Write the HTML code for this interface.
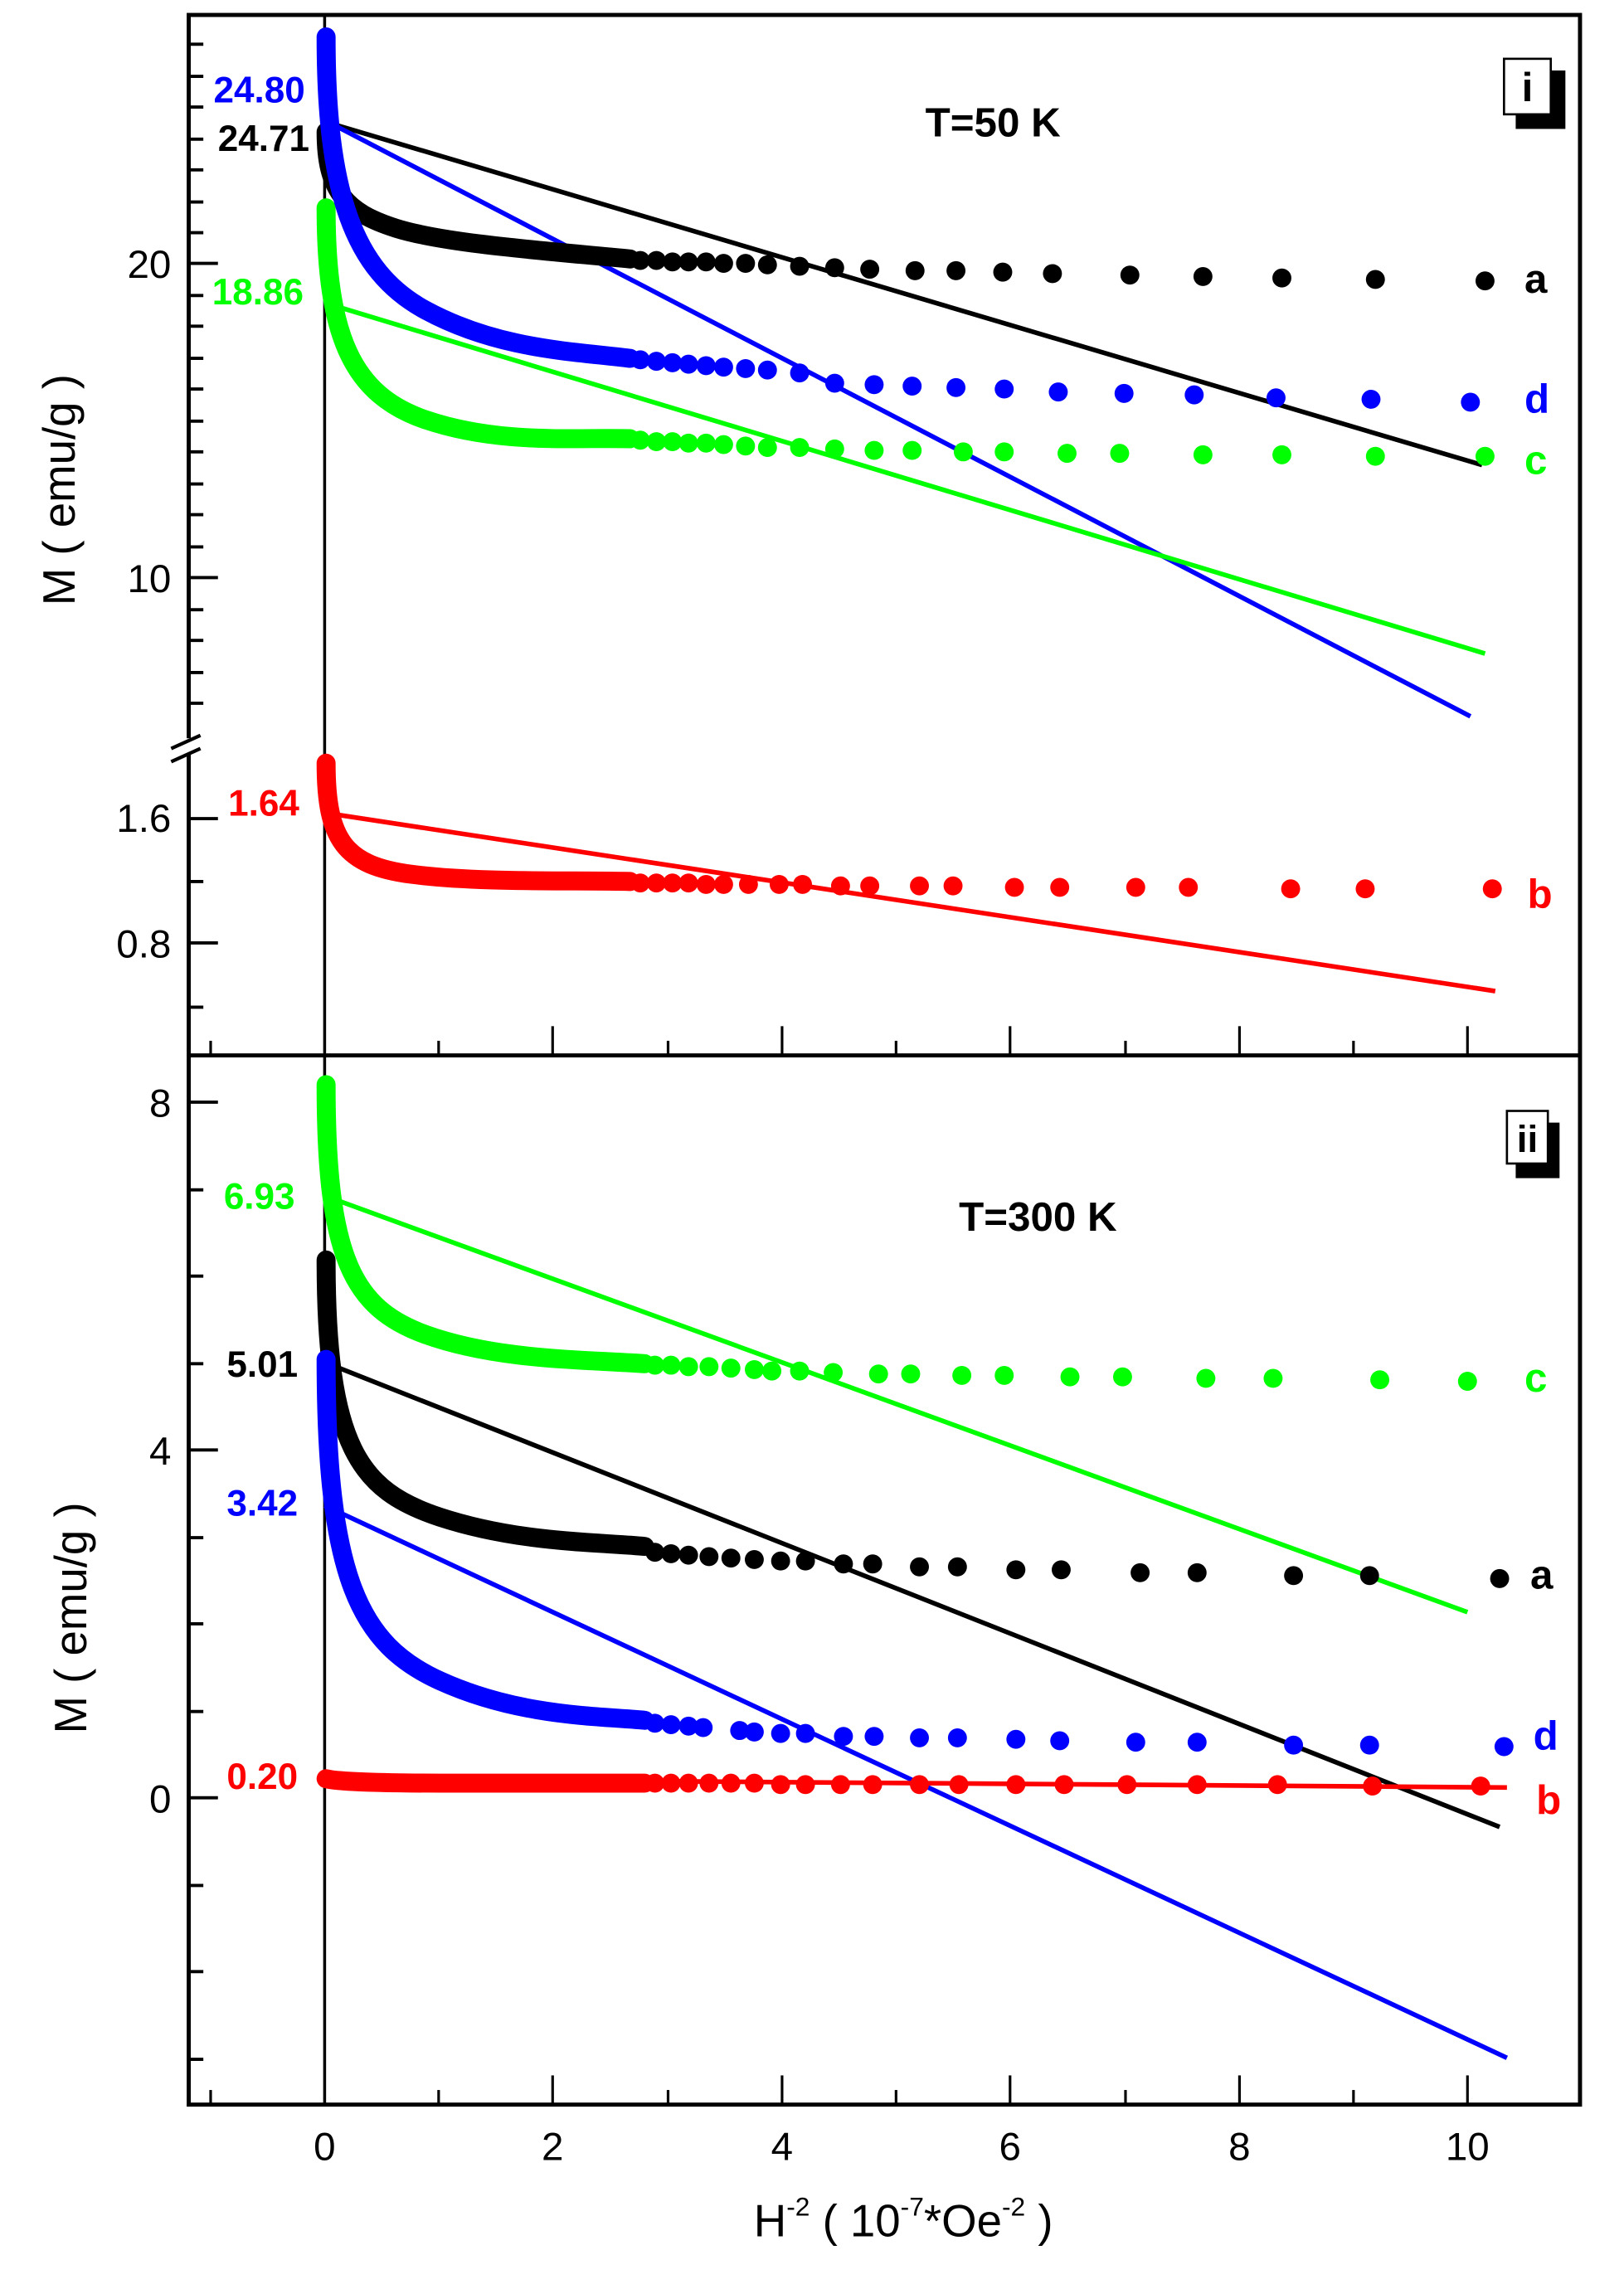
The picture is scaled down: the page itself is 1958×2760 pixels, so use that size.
<!DOCTYPE html>
<html><head><meta charset="utf-8"><style>html,body{margin:0;padding:0;background:#fff}svg{display:block}</style></head>
<body>
<svg width="1958" height="2760" viewBox="0 0 1958 2760" xmlns="http://www.w3.org/2000/svg">
<rect width="1958" height="2760" fill="#fff"/>
<g transform="matrix(1.762,0,0,1.762,2,0.4)" font-family="Liberation Sans, Arial, sans-serif">
<!-- frame -->
<rect x="128" y="10" width="952" height="1430" fill="none" stroke="#000" stroke-width="2.8"/>
<line x1="128" y1="722" x2="1080" y2="722" stroke="#000" stroke-width="2.8"/>
<line x1="221" y1="10" x2="221" y2="1440" stroke="#000" stroke-width="2"/>
<!-- x ticks (bottom and divider) -->
<g stroke="#000" stroke-width="1.8">
<line x1="143" y1="1440" x2="143" y2="1430"/><line x1="299" y1="1440" x2="299" y2="1430"/><line x1="456" y1="1440" x2="456" y2="1430"/><line x1="612" y1="1440" x2="612" y2="1430"/><line x1="769" y1="1440" x2="769" y2="1430"/><line x1="925" y1="1440" x2="925" y2="1430"/>
<line x1="377" y1="1440" x2="377" y2="1420"/><line x1="534" y1="1440" x2="534" y2="1420"/><line x1="690" y1="1440" x2="690" y2="1420"/><line x1="847" y1="1440" x2="847" y2="1420"/><line x1="1003" y1="1440" x2="1003" y2="1420"/>
<line x1="143" y1="722" x2="143" y2="712"/><line x1="299" y1="722" x2="299" y2="712"/><line x1="456" y1="722" x2="456" y2="712"/><line x1="612" y1="722" x2="612" y2="712"/><line x1="769" y1="722" x2="769" y2="712"/><line x1="925" y1="722" x2="925" y2="712"/>
<line x1="377" y1="722" x2="377" y2="702"/><line x1="534" y1="722" x2="534" y2="702"/><line x1="690" y1="722" x2="690" y2="702"/><line x1="847" y1="722" x2="847" y2="702"/><line x1="1003" y1="722" x2="1003" y2="702"/>
</g>
<!-- y ticks -->
<g stroke="#000" stroke-width="2.2">
<line x1="128" y1="30" x2="138" y2="30"/><line x1="128" y1="52" x2="138" y2="52"/><line x1="128" y1="73" x2="138" y2="73"/><line x1="128" y1="95" x2="138" y2="95"/><line x1="128" y1="116" x2="138" y2="116"/><line x1="128" y1="138" x2="138" y2="138"/><line x1="128" y1="159" x2="138" y2="159"/>
<line x1="128" y1="180" x2="148" y2="180"/>
<line x1="128" y1="202" x2="138" y2="202"/><line x1="128" y1="223" x2="138" y2="223"/><line x1="128" y1="245" x2="138" y2="245"/><line x1="128" y1="266" x2="138" y2="266"/><line x1="128" y1="288" x2="138" y2="288"/><line x1="128" y1="309" x2="138" y2="309"/><line x1="128" y1="331" x2="138" y2="331"/><line x1="128" y1="352" x2="138" y2="352"/><line x1="128" y1="374" x2="138" y2="374"/>
<line x1="128" y1="395" x2="148" y2="395"/>
<line x1="128" y1="417" x2="138" y2="417"/><line x1="128" y1="438" x2="138" y2="438"/><line x1="128" y1="460" x2="138" y2="460"/><line x1="128" y1="481" x2="138" y2="481"/>
<line x1="128" y1="560" x2="148" y2="560"/><line x1="128" y1="603" x2="138" y2="603"/><line x1="128" y1="645" x2="148" y2="645"/><line x1="128" y1="689" x2="138" y2="689"/>
<line x1="128" y1="754" x2="148" y2="754"/><line x1="128" y1="814" x2="138" y2="814"/><line x1="128" y1="873" x2="138" y2="873"/><line x1="128" y1="933" x2="138" y2="933"/>
<line x1="128" y1="992" x2="148" y2="992"/><line x1="128" y1="1052" x2="138" y2="1052"/><line x1="128" y1="1111" x2="138" y2="1111"/><line x1="128" y1="1171" x2="138" y2="1171"/>
<line x1="128" y1="1230" x2="148" y2="1230"/><line x1="128" y1="1290" x2="138" y2="1290"/><line x1="128" y1="1349" x2="138" y2="1349"/><line x1="128" y1="1409" x2="138" y2="1409"/>
</g>
<!-- axis break -->
<rect x="122" y="505" width="14" height="10" fill="#fff"/>
<g stroke="#000" stroke-width="2.4"><line x1="116" y1="512" x2="136" y2="503"/><line x1="116" y1="521" x2="136" y2="512"/></g>
<!-- tick labels -->
<g font-size="27" fill="#000" text-anchor="end">
<text x="116" y="190">20</text><text x="116" y="405">10</text>
<text x="116" y="569">1.6</text><text x="116" y="655">0.8</text>
<text x="116" y="764">8</text><text x="116" y="1002">4</text><text x="116" y="1240">0</text>
</g>
<g font-size="27" fill="#000" text-anchor="middle">
<text x="221" y="1478">0</text><text x="377" y="1478">2</text><text x="534" y="1478">4</text><text x="690" y="1478">6</text><text x="847" y="1478">8</text><text x="1003" y="1478">10</text>
</g>
<text x="617" y="1530" font-size="31" text-anchor="middle">H<tspan font-size="18" dy="-14">-2</tspan><tspan dy="14"> ( 10</tspan><tspan font-size="18" dy="-14">-7</tspan><tspan dy="14">*Oe</tspan><tspan font-size="18" dy="-14">-2</tspan><tspan dy="14"> )</tspan></text>
<text transform="translate(50,335) rotate(-90)" font-size="31" text-anchor="middle">M ( emu/g )</text>
<text transform="translate(58,1107) rotate(-90)" font-size="31" text-anchor="middle">M ( emu/g )</text>

<!-- TOP PANEL fits -->
<g stroke-width="3.2" fill="none">
<line x1="221" y1="83" x2="1013" y2="318" stroke="#000"/>
<line x1="221" y1="82" x2="1005" y2="490" stroke="#0000ff"/>
<line x1="221" y1="207" x2="1015" y2="447" stroke="#00ff00"/>
<line x1="221" y1="556" x2="1022" y2="678" stroke="#ff0000"/>
</g>
<!-- top curves -->
<g fill="none" stroke-width="13" stroke-linecap="round" stroke-linejoin="round">
<path stroke="#000" d="M222,90 C222,130 235,145 270,156 S380,172 430,177"/>
<path stroke="#00ff00" d="M222,142 C222,230 240,270 290,287 S390,299 430,300"/>
<path stroke="#0000ff" d="M222,25 C222,130 240,185 290,212 S390,240 430,245"/>
<path stroke="#ff0000" d="M222,522 C222,575 235,592 280,598 S390,602 430,603"/>
</g>
<g fill="#000">
<circle cx="437" cy="178" r="6.5"/><circle cx="448" cy="178" r="6.5"/><circle cx="459" cy="179" r="6.5"/><circle cx="470" cy="179" r="6.5"/><circle cx="482" cy="179" r="6.5"/><circle cx="494" cy="180" r="6.5"/><circle cx="509" cy="180" r="6.5"/><circle cx="524" cy="181" r="6.5"/><circle cx="546" cy="182" r="6.5"/><circle cx="570" cy="183" r="6.5"/><circle cx="594" cy="184" r="6.5"/><circle cx="625" cy="185" r="6.5"/><circle cx="653" cy="185" r="6.5"/><circle cx="685" cy="186" r="6.5"/><circle cx="719" cy="187" r="6.5"/><circle cx="772" cy="188" r="6.5"/><circle cx="822" cy="189" r="6.5"/><circle cx="876" cy="190" r="6.5"/><circle cx="940" cy="191" r="6.5"/><circle cx="1015" cy="192" r="6.5"/>
</g>
<g fill="#0000ff">
<circle cx="437" cy="246" r="6.5"/><circle cx="448" cy="247" r="6.5"/><circle cx="459" cy="248" r="6.5"/><circle cx="470" cy="249" r="6.5"/><circle cx="482" cy="250" r="6.5"/><circle cx="494" cy="251" r="6.5"/><circle cx="509" cy="252" r="6.5"/><circle cx="524" cy="253" r="6.5"/><circle cx="546" cy="255" r="6.5"/><circle cx="570" cy="262" r="6.5"/><circle cx="597" cy="263" r="6.5"/><circle cx="623" cy="264" r="6.5"/><circle cx="653" cy="265" r="6.5"/><circle cx="686" cy="266" r="6.5"/><circle cx="723" cy="268" r="6.5"/><circle cx="768" cy="269" r="6.5"/><circle cx="816" cy="270" r="6.5"/><circle cx="872" cy="272" r="6.5"/><circle cx="937" cy="273" r="6.5"/><circle cx="1005" cy="275" r="6.5"/>
</g>
<g fill="#00ff00">
<circle cx="437" cy="301" r="6.5"/><circle cx="448" cy="302" r="6.5"/><circle cx="459" cy="302" r="6.5"/><circle cx="470" cy="303" r="6.5"/><circle cx="482" cy="303" r="6.5"/><circle cx="494" cy="304" r="6.5"/><circle cx="509" cy="305" r="6.5"/><circle cx="524" cy="306" r="6.5"/><circle cx="546" cy="306" r="6.5"/><circle cx="570" cy="307" r="6.5"/><circle cx="597" cy="308" r="6.5"/><circle cx="623" cy="308" r="6.5"/><circle cx="658" cy="309" r="6.5"/><circle cx="686" cy="309" r="6.5"/><circle cx="729" cy="310" r="6.5"/><circle cx="765" cy="310" r="6.5"/><circle cx="822" cy="311" r="6.5"/><circle cx="876" cy="311" r="6.5"/><circle cx="940" cy="312" r="6.5"/><circle cx="1015" cy="312" r="6.5"/>
</g>
<g fill="#ff0000">
<circle cx="437" cy="604" r="6.5"/><circle cx="448" cy="604" r="6.5"/><circle cx="459" cy="604" r="6.5"/><circle cx="470" cy="604" r="6.5"/><circle cx="482" cy="605" r="6.5"/><circle cx="494" cy="605" r="6.5"/><circle cx="511" cy="605" r="6.5"/><circle cx="532" cy="605" r="6.5"/><circle cx="548" cy="605" r="6.5"/><circle cx="574" cy="606" r="6.5"/><circle cx="594" cy="606" r="6.5"/><circle cx="628" cy="606" r="6.5"/><circle cx="651" cy="606" r="6.5"/><circle cx="693" cy="607" r="6.5"/><circle cx="724" cy="607" r="6.5"/><circle cx="776" cy="607" r="6.5"/><circle cx="812" cy="607" r="6.5"/><circle cx="882" cy="608" r="6.5"/><circle cx="933" cy="608" r="6.5"/><circle cx="1020" cy="608" r="6.5"/>
</g>
<!-- top labels -->
<g font-size="25" font-weight="bold">
<text x="145" y="70" fill="#0000ff">24.80</text>
<text x="148" y="103" fill="#000">24.71</text>
<text x="144" y="208" fill="#00ff00">18.86</text>
<text x="155" y="558" fill="#ff0000">1.64</text>
<text x="632" y="93" fill="#000" font-size="28">T=50 K</text>
<text x="1042" y="200" fill="#000" font-size="28">a</text>
<text x="1042" y="282" fill="#0000ff" font-size="28">d</text>
<text x="1042" y="324" fill="#00ff00" font-size="28">c</text>
<text x="1044" y="621" fill="#ff0000" font-size="28">b</text>
</g>
<rect x="1036" y="48" width="34" height="40" fill="#000"/>
<rect x="1028" y="40" width="32" height="38" fill="#fff" stroke="#000" stroke-width="1.5"/>
<text x="1044" y="69" font-size="28" font-weight="bold" text-anchor="middle">i</text>

<!-- BOTTOM PANEL fits -->
<g stroke-width="3.2" fill="none">
<line x1="221" y1="818" x2="1003" y2="1103" stroke="#00ff00"/>
<line x1="221" y1="932" x2="1025" y2="1250" stroke="#000"/>
<line x1="221" y1="1030" x2="1030" y2="1408" stroke="#0000ff"/>
<line x1="221" y1="1217" x2="1030" y2="1223" stroke="#ff0000"/>
</g>
<g fill="none" stroke-width="13" stroke-linecap="round" stroke-linejoin="round">
<path stroke="#00ff00" d="M222,742 C222,860 240,895 290,913 S400,930 440,933"/>
<path stroke="#000" d="M222,862 C222,990 245,1020 300,1038 S410,1055 440,1058"/>
<path stroke="#0000ff" d="M222,930 C222,1080 245,1125 300,1150 S410,1174 440,1177"/>
<path stroke="#ff0000" d="M222,1217 C230,1219 260,1220 300,1220 L440,1220"/>
</g>
<g fill="#00ff00">
<circle cx="447" cy="934" r="6.5"/><circle cx="458" cy="934" r="6.5"/><circle cx="470" cy="935" r="6.5"/><circle cx="484" cy="935" r="6.5"/><circle cx="499" cy="936" r="6.5"/><circle cx="515" cy="937" r="6.5"/><circle cx="527" cy="938" r="6.5"/><circle cx="546" cy="938" r="6.5"/><circle cx="569" cy="939" r="6.5"/><circle cx="600" cy="940" r="6.5"/><circle cx="622" cy="940" r="6.5"/><circle cx="657" cy="941" r="6.5"/><circle cx="686" cy="941" r="6.5"/><circle cx="731" cy="942" r="6.5"/><circle cx="767" cy="942" r="6.5"/><circle cx="824" cy="943" r="6.5"/><circle cx="870" cy="943" r="6.5"/><circle cx="943" cy="944" r="6.5"/><circle cx="1003" cy="945" r="6.5"/>
</g>
<g fill="#000">
<circle cx="447" cy="1062" r="6.5"/><circle cx="458" cy="1063" r="6.5"/><circle cx="470" cy="1064" r="6.5"/><circle cx="484" cy="1065" r="6.5"/><circle cx="499" cy="1066" r="6.5"/><circle cx="515" cy="1067" r="6.5"/><circle cx="533" cy="1068" r="6.5"/><circle cx="550" cy="1068" r="6.5"/><circle cx="576" cy="1070" r="6.5"/><circle cx="596" cy="1070" r="6.5"/><circle cx="628" cy="1072" r="6.5"/><circle cx="654" cy="1072" r="6.5"/><circle cx="694" cy="1074" r="6.5"/><circle cx="725" cy="1074" r="6.5"/><circle cx="779" cy="1076" r="6.5"/><circle cx="818" cy="1076" r="6.5"/><circle cx="884" cy="1078" r="6.5"/><circle cx="936" cy="1078" r="6.5"/><circle cx="1025" cy="1080" r="6.5"/>
</g>
<g fill="#0000ff">
<circle cx="447" cy="1179" r="6.5"/><circle cx="458" cy="1180" r="6.5"/><circle cx="470" cy="1181" r="6.5"/><circle cx="480" cy="1182" r="6.5"/><circle cx="505" cy="1184" r="6.5"/><circle cx="515" cy="1185" r="6.5"/><circle cx="533" cy="1186" r="6.5"/><circle cx="550" cy="1186" r="6.5"/><circle cx="576" cy="1188" r="6.5"/><circle cx="597" cy="1188" r="6.5"/><circle cx="628" cy="1189" r="6.5"/><circle cx="654" cy="1189" r="6.5"/><circle cx="694" cy="1190" r="6.5"/><circle cx="724" cy="1191" r="6.5"/><circle cx="776" cy="1192" r="6.5"/><circle cx="818" cy="1192" r="6.5"/><circle cx="884" cy="1194" r="6.5"/><circle cx="936" cy="1194" r="6.5"/><circle cx="1028" cy="1195" r="6.5"/>
</g>
<g fill="#ff0000">
<circle cx="447" cy="1220" r="6.5"/><circle cx="458" cy="1220" r="6.5"/><circle cx="470" cy="1220" r="6.5"/><circle cx="484" cy="1220" r="6.5"/><circle cx="499" cy="1220" r="6.5"/><circle cx="515" cy="1220" r="6.5"/><circle cx="533" cy="1221" r="6.5"/><circle cx="550" cy="1221" r="6.5"/><circle cx="574" cy="1221" r="6.5"/><circle cx="596" cy="1221" r="6.5"/><circle cx="628" cy="1221" r="6.5"/><circle cx="655" cy="1221" r="6.5"/><circle cx="694" cy="1221" r="6.5"/><circle cx="727" cy="1221" r="6.5"/><circle cx="770" cy="1221" r="6.5"/><circle cx="818" cy="1221" r="6.5"/><circle cx="873" cy="1221" r="6.5"/><circle cx="938" cy="1222" r="6.5"/><circle cx="1012" cy="1222" r="6.5"/>
</g>
<g font-size="25" font-weight="bold">
<text x="152" y="827" fill="#00ff00">6.93</text>
<text x="154" y="942" fill="#000">5.01</text>
<text x="154" y="1037" fill="#0000ff">3.42</text>
<text x="154" y="1224" fill="#ff0000">0.20</text>
<text x="655" y="842" fill="#000" font-size="28">T=300 K</text>
<text x="1042" y="952" fill="#00ff00" font-size="28">c</text>
<text x="1046" y="1087" fill="#000" font-size="28">a</text>
<text x="1048" y="1197" fill="#0000ff" font-size="28">d</text>
<text x="1050" y="1241" fill="#ff0000" font-size="28">b</text>
</g>
<rect x="1036" y="768" width="30" height="38" fill="#000"/>
<rect x="1030" y="760" width="28" height="36" fill="#fff" stroke="#000" stroke-width="1.5"/>
<text x="1044" y="788" font-size="26" font-weight="bold" text-anchor="middle">ii</text>
</g>
</svg>
</body></html>
